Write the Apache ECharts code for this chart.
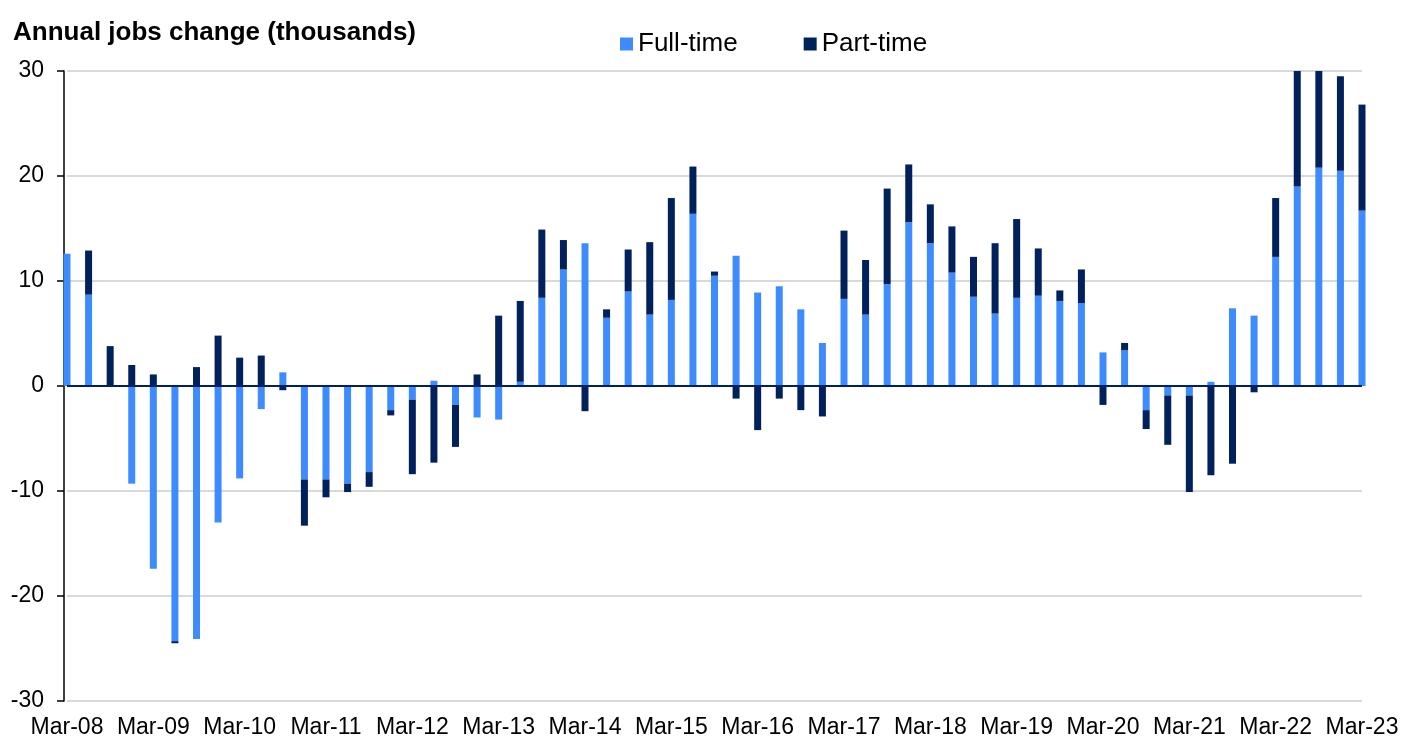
<!DOCTYPE html>
<html>
<head>
<meta charset="utf-8">
<title>Annual jobs change</title>
<script src="https://cdn.jsdelivr.net/npm/echarts@6/dist/echarts.min.js"></script>
<style>
  html, body { margin: 0; padding: 0; background: #fff; }
  #chart { width: 1402px; height: 740px; }
</style>
</head>
<body>
<div id="chart"></div>
<script>
// quarters Mar-08 .. Mar-23
var months = ['Mar', 'Jun', 'Sep', 'Dec'];
var years = ['08','09','10','11','12','13','14','15','16','17','18','19','20','21','22','23'];
var quarters = [];
years.forEach(function (y) {
  months.forEach(function (m) {
    if (quarters.length < 61) quarters.push(m + '-' + y);
  });
});

var fullTime = [12.6, 8.7, 0, -9.3, -17.4, -24.3, -24.1, -13.0, -8.8, -2.2, 1.3, -8.9, -8.9, -9.3, -8.2, -2.3,
  -1.3, 0.5, -1.8, -3.0, -3.2, 0.4, 8.4, 11.1, 13.6, 6.5, 9.0, 6.8, 8.2, 16.4, 10.5, 12.4,
  8.9, 9.5, 7.3, 4.1, 8.3, 6.8, 9.7, 15.6, 13.6, 10.8, 8.5, 6.9, 8.4, 8.6, 8.1, 7.9,
  3.2, 3.4, -2.3, -0.9, -0.9, 0.4, 7.4, 6.7, 12.3, 19.0, 20.8, 20.5, 16.7];

var partTime = [0, 4.2, 3.8, 2.0, 1.1, -0.2, 1.8, 4.8, 2.7, 2.9, -0.4, -4.4, -1.7, -0.8, -1.4, -0.5,
  -7.1, -7.3, -4.0, 1.1, 6.7, 7.7, 6.5, 2.8, -2.4, 0.8, 4.0, 6.9, 9.7, 4.5, 0.4, -1.2,
  -4.2, -1.2, -2.3, -2.9, 6.5, 5.2, 9.1, 5.5, 3.7, 4.4, 3.8, 6.7, 7.5, 4.5, 1.0, 3.2,
  -1.8, 0.7, -1.8, -4.7, -9.2, -8.5, -7.4, -0.6, 5.6, 11.3, 9.4, 9.0, 10.1];

var yTicks = { min: -30, max: 30, interval: 10 };

var font = 'Liberation Sans, Arial, sans-serif';
var chart = echarts.init(document.getElementById('chart'));

chart.setOption({
  animation: false,
  textStyle: { fontFamily: font },
  title: {
    text: 'Annual jobs change (thousands)',
    left: 8,
    top: 15,
    textStyle: { fontSize: 26, fontWeight: 'bold', color: '#000', fontFamily: font }
  },
  legend: {
    data: ['Full-time', 'Part-time'],
    left: 615,
    top: 26,
    icon: 'rect',
    itemWidth: 13,
    itemHeight: 13,
    itemGap: 66,
    textStyle: { fontSize: 26, color: '#000', fontFamily: font }
  },
  grid: { left: 67, right: 40, top: 71, bottom: 39, containLabel: false },
  xAxis: {
    type: 'category',
    data: quarters,
    boundaryGap: false,
    axisLine: { show: false, onZero: false },
    axisTick: { show: false },
    splitLine: { show: false },
    axisLabel: {
      interval: 3,
      margin: 15,
      fontSize: 23,
      color: '#000',
      fontFamily: font
    }
  },
  yAxis: {
    type: 'value',
    min: yTicks.min,
    max: yTicks.max,
    interval: yTicks.interval,
    offset: 3,
    axisLine: { show: true, lineStyle: { color: '#000', width: 1.5 } },
    axisTick: { show: true, length: 7, lineStyle: { color: '#000', width: 1.5 } },
    axisLabel: { margin: 20, fontSize: 23, color: '#000', fontFamily: font },
    splitLine: { show: true, lineStyle: { color: '#d9d9d9', width: 2 } }
  },
  series: [
    {
      name: 'Full-time',
      type: 'bar',
      stack: 'jobs',
      barWidth: 7,
      itemStyle: { color: '#3d8bfd' },
      data: fullTime,
      markLine: {
        silent: true,
        symbol: 'none',
        label: { show: false },
        lineStyle: { color: '#002060', width: 2, type: 'solid' },
        data: [{ yAxis: 0 }]
      }
    },
    {
      name: 'Part-time',
      type: 'bar',
      stack: 'jobs',
      barWidth: 7,
      itemStyle: { color: '#00215c' },
      data: partTime
    }
  ]
});
</script>
</body>
</html>
